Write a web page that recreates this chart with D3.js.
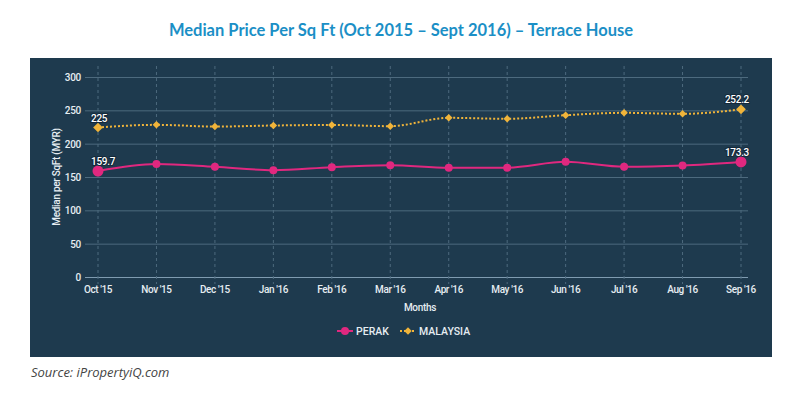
<!DOCTYPE html>
<html>
<head>
<meta charset="utf-8">
<script src="https://cdn.jsdelivr.net/npm/d3@7"></script>
<style>
  body { margin: 0; background: #fff; }
  svg text { font-family: Roboto, "Liberation Sans", Arial, sans-serif; }
</style>
</head>
<body>
<div id="chart"></div>
<script>
// chart data
var months = ["Oct '15", "Nov '15", "Dec '15", "Jan '16", "Feb '16", "Mar '16",
              "Apr '16", "May '16", "Jun '16", "Jul '16", "Aug '16", "Sep '16"];
var perak = [159.7, 170.2, 166, 161, 165.5, 168.5, 164.8, 164.8, 173.5, 166, 168, 173.3];
var malaysia = [225, 229, 226.4, 228, 228.8, 227, 239.5, 238, 243.5, 247, 245.5, 252.2];
var yTicks = [0, 50, 100, 150, 200, 250, 300];
var seriesNames = ["PERAK", "MALAYSIA"];

init();
function init() {
    var width = 804, height = 394;
    var svg = d3.select("#chart").append("svg")
        .attr("width", width)
        .attr("height", height);

    // title
    svg.append("text")
        .attr("x", 401).attr("y", 36)
        .attr("text-anchor", "middle")
        .style("font-family", "Lato, 'Open Sans', sans-serif")
        .style("font-weight", "700")
        .style("font-size", "16.5px")
        .attr("fill", "#1b8fc6")
        .text("Median Price Per Sq Ft (Oct 2015 \u2013 Sept 2016) \u2013 Terrace House");

    // dark panel
    svg.append("rect")
        .attr("x", 30).attr("y", 58)
        .attr("width", 742).attr("height", 299)
        .attr("fill", "#1e3a4e");

    var x = d3.scalePoint().domain(months).range([98, 741]);
    var y = d3.scaleLinear().domain([0, 300]).range([277.5, 77.5]);

    var g = svg.append("g");

    // horizontal grid
    g.selectAll(".hgrid").data(yTicks).enter().append("line")
        .attr("x1", 85).attr("x2", 748)
        .attr("y1", d => y(d)).attr("y2", d => y(d))
        .attr("stroke", d => d == 0 ? "#7f9bb0" : "#4d6a7e")
        .attr("stroke-width", 1);

    // vertical dashed grid
    g.selectAll(".vgrid").data(months).enter().append("line")
        .attr("x1", d => x(d)).attr("x2", d => x(d))
        .attr("y1", 66).attr("y2", 284)
        .attr("stroke", "#4d6a7e")
        .attr("stroke-dasharray", "3,3")
        .attr("stroke-width", 1);

    // y labels
    g.selectAll(".ylab").data(yTicks).enter().append("text")
        .attr("x", 81).attr("y", d => y(d) + 3.5)
        .attr("text-anchor", "end")
        .attr("fill", "#e6edf2")
        .style("font-size", "10px")
        .style("font-weight", "500")
        .style("letter-spacing", "-0.3px")
        .text(d => d);

    // x labels
    g.selectAll(".xlab").data(months).enter().append("text")
        .attr("x", d => x(d)).attr("y", 293)
        .attr("text-anchor", "middle")
        .attr("fill", "#e6edf2")
        .style("font-size", "10px")
        .style("font-weight", "500")
        .style("letter-spacing", "-0.4px")
        .text(d => d);

    // axis titles
    svg.append("text")
        .attr("x", 420).attr("y", 311)
        .attr("text-anchor", "middle")
        .attr("fill", "#e6edf2")
        .style("font-size", "10px")
        .style("font-weight", "500")
        .style("letter-spacing", "-0.3px")
        .text("Months");
    svg.append("text")
        .attr("transform", "translate(60,177) rotate(-90)")
        .attr("text-anchor", "middle")
        .attr("fill", "#e6edf2")
        .style("font-size", "10px")
        .style("font-weight", "500")
        .style("letter-spacing", "-0.3px")
        .text("Median per SqFt (MYR)");

    var line = d3.line()
        .x((d, i) => x(months[i]))
        .y(d => y(d))
        .curve(d3.curveMonotoneX);

    // malaysia - dotted orange
    svg.append("path")
        .datum(malaysia)
        .attr("d", line)
        .attr("fill", "none")
        .attr("stroke", "#f0b43a")
        .attr("stroke-width", 2)
        .attr("stroke-dasharray", "2,2");
    var sym = d3.symbol().type(d3.symbolDiamond2);
    svg.selectAll(".mpt").data(malaysia).enter().append("path")
        .attr("transform", (d, i) => "translate(" + x(months[i]) + "," + y(d) + ")")
        .attr("d", (d, i) => sym.size(i == 0 || i == malaysia.length - 1 ? 60 : 36)())
        .attr("fill", "#f0b43a");

    // perak - solid pink
    svg.append("path")
        .datum(perak)
        .attr("d", line)
        .attr("fill", "none")
        .attr("stroke", "#e0287f")
        .attr("stroke-width", 2);
    svg.selectAll(".ppt").data(perak).enter().append("circle")
        .attr("cx", (d, i) => x(months[i]))
        .attr("cy", d => y(d))
        .attr("r", (d, i) => i == 0 || i == perak.length - 1 ? 5.5 : 4)
        .attr("fill", "#e0287f");

    // data labels at first and last points
    var labels = [
        {i: 0, v: malaysia[0], anchor: "start", dx: -7},
        {i: 11, v: malaysia[11], anchor: "end", dx: 8},
        {i: 0, v: perak[0], anchor: "start", dx: -7},
        {i: 11, v: perak[11], anchor: "end", dx: 8}
    ];
    svg.selectAll(".dlab").data(labels).enter().append("text")
        .attr("x", d => x(months[d.i]) + d.dx)
        .attr("y", d => y(d.v) - 6)
        .attr("text-anchor", d => d.anchor)
        .attr("fill", "#ffffff")
        .attr("stroke", "#14293a")
        .attr("stroke-width", 2)
        .attr("paint-order", "stroke")
        .style("font-size", "10px")
        .style("font-weight", "500")
        .style("letter-spacing", "-0.3px")
        .text(d => d.v);

    // legend
    var legend = svg.append("g");
    legend.append("line")
        .attr("x1", 337).attr("x2", 353).attr("y1", 331).attr("y2", 331)
        .attr("stroke", "#e0287f").attr("stroke-width", 2);
    legend.append("circle")
        .attr("cx", 345).attr("cy", 331).attr("r", 4).attr("fill", "#e0287f");
    legend.append("text")
        .attr("x", 356).attr("y", 335)
        .attr("fill", "#e6edf2")
        .style("font-size", "10.5px")
        .style("font-weight", "500")
        .text(seriesNames[0]);
    legend.append("line")
        .attr("x1", 400).attr("x2", 416).attr("y1", 331).attr("y2", 331)
        .attr("stroke", "#f0b43a").attr("stroke-width", 2)
        .attr("stroke-dasharray", "2,2");
    legend.append("path")
        .attr("transform", "translate(408,331)")
        .attr("d", d3.symbol().type(d3.symbolDiamond2).size(36)())
        .attr("fill", "#f0b43a");
    legend.append("text")
        .attr("x", 419).attr("y", 335)
        .attr("fill", "#e6edf2")
        .style("font-size", "10.5px")
        .style("font-weight", "500")
        .text(seriesNames[1]);

    // source
    svg.append("text")
        .attr("x", 31).attr("y", 377)
        .style("font-family", "'Open Sans', Lato, sans-serif")
        .style("font-style", "italic")
        .style("font-size", "13px")
        .attr("fill", "#444")
        .text("Source: iPropertyiQ.com");
}
</script>
</body>
</html>
